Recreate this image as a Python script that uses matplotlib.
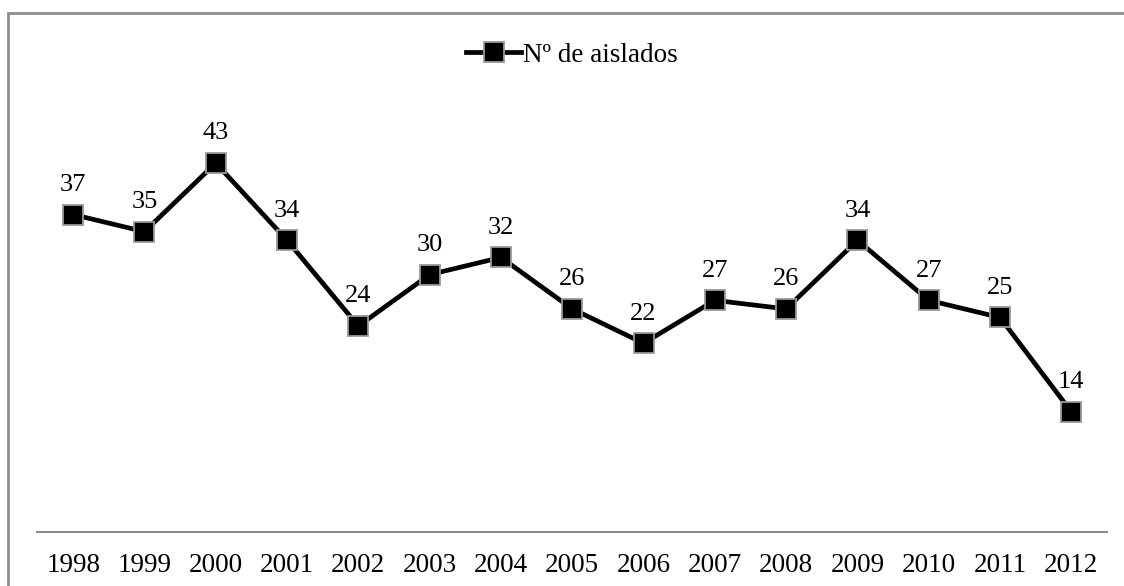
import matplotlib
matplotlib.use("Agg")
import matplotlib.pyplot as plt
from matplotlib.patches import Rectangle

years = ["1998", "1999", "2000", "2001", "2002", "2003", "2004", "2005",
         "2006", "2007", "2008", "2009", "2010", "2011", "2012"]
aislados = [37, 35, 43, 34, 24, 30, 32, 26, 22, 27, 26, 34, 27, 25, 14]
serie = "Nº de aislados"

plt.rcParams["font.family"] = ["Liberation Serif", "DejaVu Serif"]

W, H = 1124, 586
fig = plt.figure(figsize=(W / 100, H / 100), dpi=100)
ax = fig.add_axes([37.5 / W, (H - 532) / H, (1107 - 37.5) / W, (532 - 103) / H])

x = range(len(years))
ax.plot(x, aislados, color="black", lw=3.4, marker="s", ms=14,
        mfc="black", mec="#999999", mew=1.3, label=serie, zorder=3)

for xi, v in zip(x, aislados):
    ax.annotate(str(v), (xi, v), xytext=(0, 17), textcoords="offset points",
                ha="center", va="baseline", fontsize=19)

ax.set_xlim(-0.5, len(years) - 0.5)
ax.set_ylim(0, 50)
ax.set_xticks(list(x))
ax.set_xticklabels(years, fontsize=19.5)
ax.tick_params(axis="x", length=0, pad=15)
ax.set_yticks([])
for s in ("top", "right", "left"):
    ax.spines[s].set_visible(False)
ax.spines["bottom"].set_color("#8c8c8c")
ax.spines["bottom"].set_linewidth(1.5)

leg = ax.legend(loc="center", bbox_to_anchor=(0.5, 1 + (103 - 55) / (532 - 103)),
                frameon=False, fontsize=19.5, handlelength=2.0, handletextpad=0.1,
                borderpad=0)

# chart frame
fig.patches.append(Rectangle((8 / W, -0.1), 1.2, (H - 13) / H + 0.1,
                             transform=fig.transFigure, fill=False,
                             edgecolor="#8c8c8c", lw=2.0))

fig.savefig("out.png", dpi=100)
